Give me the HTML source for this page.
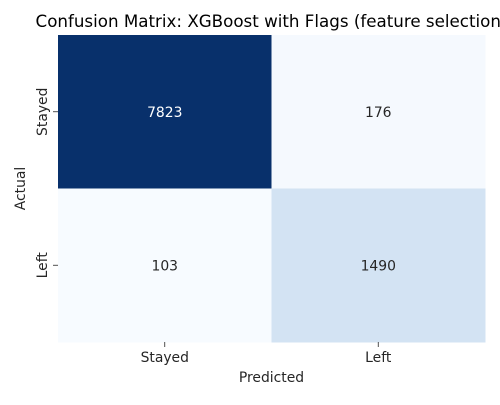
<!DOCTYPE html>
<html><head><meta charset="utf-8"><style>
body{margin:0;background:#fff;width:500px;height:400px;overflow:hidden}
svg text{font-family:"DejaVu Sans","Liberation Sans",sans-serif;fill:#262626}
</style></head><body>
<svg id="chart" width="500" height="400">
<text x="271.5" y="27" text-anchor="middle" style="font-size:16.7px;fill:#000">Confusion Matrix: XGBoost with Flags (feature selection)</text>
<g id="cells"></g>
<text x="271.5" y="382" text-anchor="middle" style="font-size:13.9px">Predicted</text>
<text transform="translate(25,188.5) rotate(-90)" text-anchor="middle" style="font-size:13.9px">Actual</text>
</svg>
<script>
const rowLabels = ["Stayed", "Left"];
const colLabels = ["Stayed", "Left"];
const values = [[7823, 176], [103, 1490]];
const colors = [["#08306b", "#f5f9fe"], ["#f7fbff", "#d3e3f3"]];

const X0 = 58, X1 = 485, Y0 = 35, Y1 = 342;
const cw = (X1 - X0) / colLabels.length, ch = (Y1 - Y0) / rowLabels.length;
const ns = "http://www.w3.org/2000/svg";
const g = document.getElementById('cells');
const svg = document.getElementById('chart');
function mk(t, a, p) { const e = document.createElementNS(ns, t); for (const k in a) e.setAttribute(k, a[k]); (p || g).appendChild(e); return e; }
values.forEach((row, i) => row.forEach((v, j) => {
  const r = mk('rect', {x: X0 + j * cw, y: Y0 + i * ch, width: cw + 0.5, height: ch + 0.5, fill: colors[i][j]});
  
  
  const t = mk('text', {x: X0 + (j + 0.5) * cw, y: Y0 + (i + 0.5) * ch + 5, 'text-anchor': 'middle', style: 'font-size:13.9px;fill:' + (i === 0 && j === 0 ? '#fff' : '#262626')});
  t.textContent = v;
  
  
}));
colLabels.forEach((l, j) => {
  const x = X0 + (j + 0.5) * cw;
  mk('line', {x1: x, x2: x, y1: Y1, y2: Y1 + 5, stroke: '#262626', 'stroke-width': 0.8}, svg);
  const t = mk('text', {x: x, y: Y1 + 20, 'text-anchor': 'middle', style: 'font-size:13.9px'}, svg);
  t.textContent = l;
  
  
});
rowLabels.forEach((l, i) => {
  const y = Y0 + (i + 0.5) * ch;
  mk('line', {x1: X0 - 5, x2: X0, y1: y, y2: y, stroke: '#262626', 'stroke-width': 0.8}, svg);
  const t = mk('text', {transform: 'translate(' + (X0 - 11) + ',' + y + ') rotate(-90)', 'text-anchor': 'middle', style: 'font-size:13.9px'}, svg);
  t.textContent = l;
  
  
});
</script>
</body></html>
